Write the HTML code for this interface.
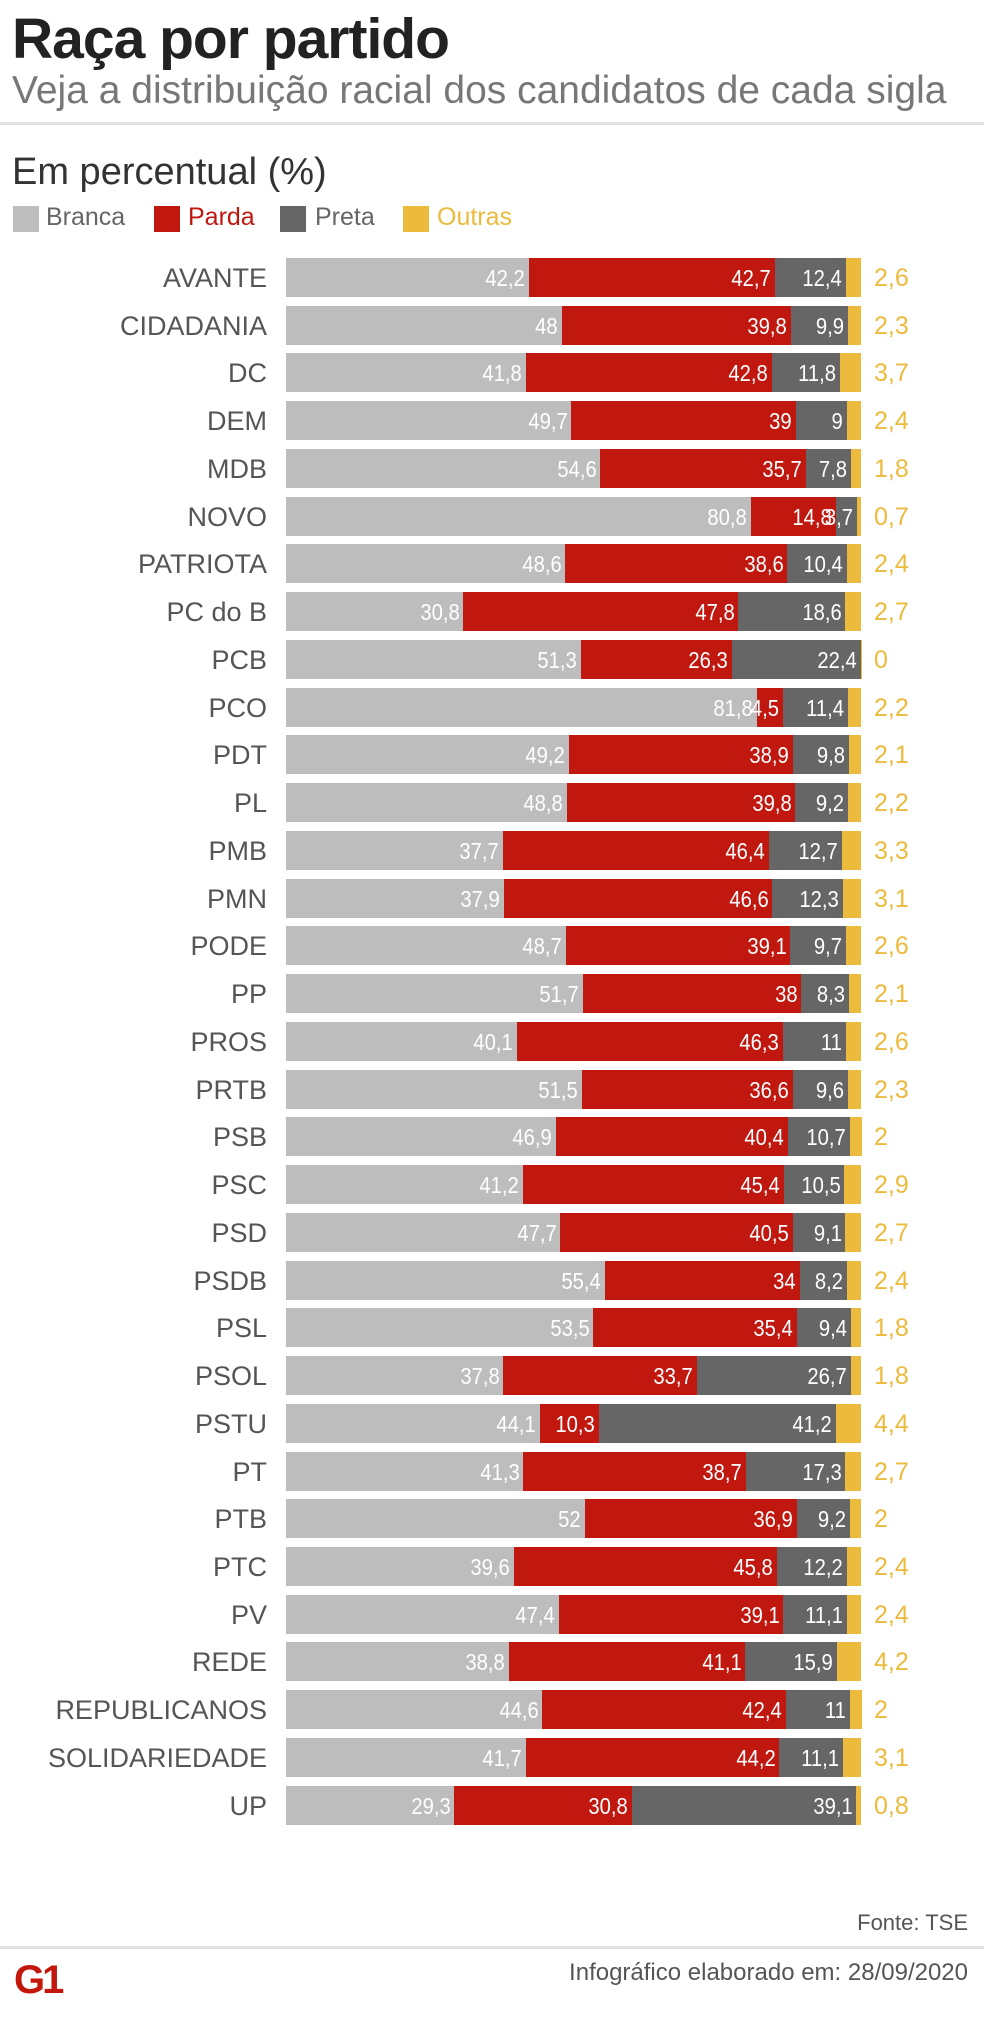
<!DOCTYPE html>
<html><head><meta charset="utf-8"><style>
body{margin:0;width:984px;height:2027px;background:#fff;overflow:hidden;position:relative;font-family:"Liberation Sans",sans-serif;}
.t{position:absolute;white-space:nowrap;}
.v{transform:scaleX(0.88);transform-origin:right center;}
</style></head><body>
<div class="t" style="left:12px;top:6px;font-size:57px;font-weight:bold;color:#222;letter-spacing:-1px;">Raça por partido</div>
<div class="t" style="left:12px;top:69px;font-size:39px;color:#777;">Veja a distribuição racial dos candidatos de cada sigla</div>
<div style="position:absolute;left:0;top:122px;width:984px;height:3px;background:#e2e2e2;"></div>
<div class="t" style="left:12px;top:151px;font-size:38px;color:#333;">Em percentual (%)</div>
<div>
<div style="position:absolute;left:13px;top:206px;width:26px;height:26px;background:#bdbdbd"></div>
<div class="t" style="left:46px;top:203px;font-size:25px;color:#666">Branca</div>
<div style="position:absolute;left:154px;top:206px;width:26px;height:26px;background:#c0170f"></div>
<div class="t" style="left:188px;top:203px;font-size:25px;color:#c0170f">Parda</div>
<div style="position:absolute;left:280px;top:206px;width:26px;height:26px;background:#666"></div>
<div class="t" style="left:315px;top:203px;font-size:25px;color:#666">Preta</div>
<div style="position:absolute;left:403px;top:206px;width:26px;height:26px;background:#ecba3c"></div>
<div class="t" style="left:437px;top:203px;font-size:25px;color:#ecba3c">Outras</div>
</div>
<div id="chart"></div>
<div class="t" style="right:16px;top:1910px;font-size:22px;color:#555">Fonte: TSE</div>
<div style="position:absolute;left:0;top:1946px;width:984px;height:3px;background:#e2e2e2;"></div>
<div class="t" style="left:14px;top:1958px;font-size:40px;font-weight:bold;color:#c4170c;letter-spacing:-3px;">G1</div>
<div class="t" style="right:16px;top:1959px;font-size:24px;color:#555">Infográfico elaborado em: 28/09/2020</div>
<script>
const parties=["AVANTE","CIDADANIA","DC","DEM","MDB","NOVO","PATRIOTA","PC do B","PCB","PCO","PDT","PL","PMB","PMN","PODE","PP","PROS","PRTB","PSB","PSC","PSD","PSDB","PSL","PSOL","PSTU","PT","PTB","PTC","PV","REDE","REPUBLICANOS","SOLIDARIEDADE","UP"];
const branca=[42.2,48,41.8,49.7,54.6,80.8,48.6,30.8,51.3,81.8,49.2,48.8,37.7,37.9,48.7,51.7,40.1,51.5,46.9,41.2,47.7,55.4,53.5,37.8,44.1,41.3,52,39.6,47.4,38.8,44.6,41.7,29.3];
const parda=[42.7,39.8,42.8,39,35.7,14.8,38.6,47.8,26.3,4.5,38.9,39.8,46.4,46.6,39.1,38,46.3,36.6,40.4,45.4,40.5,34,35.4,33.7,10.3,38.7,36.9,45.8,39.1,41.1,42.4,44.2,30.8];
const preta=[12.4,9.9,11.8,9,7.8,3.7,10.4,18.6,22.4,11.4,9.8,9.2,12.7,12.3,9.7,8.3,11,9.6,10.7,10.5,9.1,8.2,9.4,26.7,41.2,17.3,9.2,12.2,11.1,15.9,11,11.1,39.1];
const outras=[2.6,2.3,3.7,2.4,1.8,0.7,2.4,2.7,0,2.2,2.1,2.2,3.3,3.1,2.6,2.1,2.6,2.3,2,2.9,2.7,2.4,1.8,1.8,4.4,2.7,2,2.4,2.4,4.2,2,3.1,0.8];
const X0=286,W=575,Y0=258,P=47.74,H=39;
const colors=["#bdbdbd","#c0170f","#666666","#ecba3c"];
const segNames=["branca","parda","preta","outras"];
const chart=document.getElementById('chart');
function fmt(v){return String(v).replace('.',',');}
parties.forEach((p,i)=>{
  const vals=[branca[i],parda[i],preta[i],outras[i]];
  const sum=vals.reduce((a,b)=>a+b,0);
  const y=Y0+i*P;
  const lab=document.createElement('div');
  lab.className='t';
  
  
  lab.style.cssText=`right:${984-267}px;top:${y+5}px;font-size:27px;color:#555;`;
  lab.textContent=p;chart.appendChild(lab);
  let x=X0;
  vals.forEach((v,k)=>{
    const w=v/sum*W;
    const s=document.createElement('div');
    
    
    s.style.cssText=`position:absolute;left:${x}px;top:${y}px;width:${w+0.5}px;height:${H}px;background:${colors[k]};`;
    chart.appendChild(s);
    if(k<3){
      const t=document.createElement('div');
      t.className='t v';
      
      
      t.style.cssText=`right:${984-(x+w)+4}px;top:${y+7}px;font-size:23px;color:#fff;`;
      t.textContent=fmt(v);chart.appendChild(t);
    }
    x+=w;
  });
  const o=document.createElement('div');
  o.className='t';
  
  
  o.style.cssText=`left:874px;top:${y+6}px;font-size:25px;color:#ecba3c;`;
  o.textContent=fmt(outras[i]);chart.appendChild(o);
});
</script>
</body></html>
